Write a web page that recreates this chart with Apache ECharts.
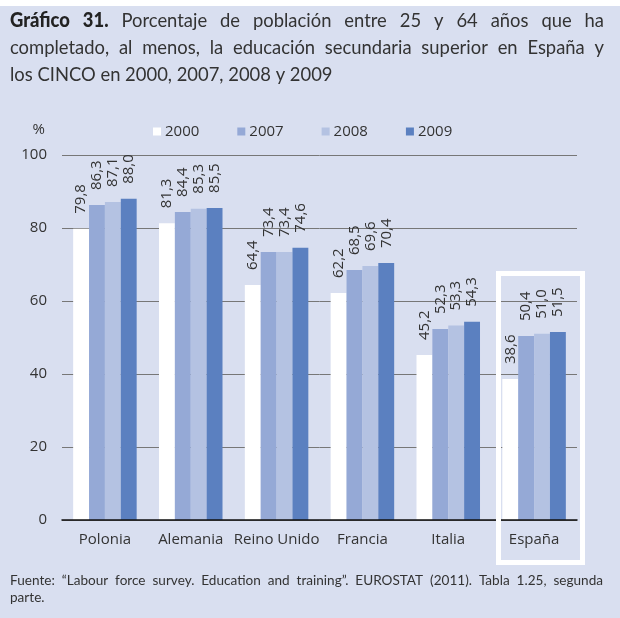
<!DOCTYPE html>
<html>
<head>
<meta charset="utf-8">
<script src="https://cdn.jsdelivr.net/npm/echarts@6/dist/echarts.min.js"></script>
<style>
  html, body { margin: 0; padding: 0; background: #d9dff0; }
  #chart { width: 620px; height: 618px; }
</style>
</head>
<body>
<div id="chart"></div>
<script>
const categories = ['Polonia', 'Alemania', 'Reino Unido', 'Francia', 'Italia', 'España']
const years = ['2000', '2007', '2008', '2009']
const v2000 = [79.8, 81.3, 64.4, 62.2, 45.2, 38.6]
const v2007 = [86.3, 84.4, 73.4, 68.5, 52.3, 50.4]
const v2008 = [87.1, 85.3, 73.4, 69.6, 53.3, 51.0]
const v2009 = [88.0, 85.5, 74.6, 70.4, 54.3, 51.5]
const yTicks = [0, 20, 40, 60, 80, 100]

const colors = ['#ffffff', '#95a9d6', '#b4c2e2', '#5b80c0']
const titleFont = 'Lato, "Open Sans", sans-serif'
const axisFont = '"Open Sans", "Noto Sans", sans-serif'

const chart = echarts.init(document.getElementById('chart'))

// justified lines like the printed page; a slight horizontal squeeze mimics the condensed face
const measureCtx = document.createElement('canvas').getContext('2d')
function justified(words, x0, width, y, size, squeeze) {
  const fontOf = w => (w.bold ? '900 ' : '') + size + 'px ' + titleFont
  const widths = words.map(w => {
    measureCtx.font = fontOf(w)
    return measureCtx.measureText(w.t).width * squeeze
  })
  const total = widths.reduce((a, b) => a + b, 0)
  const gap = (width - total) / (words.length - 1)
  let x = x0
  return words.map((w, i) => {
    const el = {
      type: 'text', x: x, y: y, scaleX: squeeze,
      style: { text: w.t, font: fontOf(w), fill: w.bold ? '#222' : '#333' }
    }
    x += widths[i] + gap
    return el
  })
}
const plain = s => s.split(' ').map(t => ({ t: t }))

function makeSeries(name, data, color) {
  return {
    name: name,
    type: 'bar',
    data: data,
    barGap: '0%',
    barCategoryGap: '26%',
    itemStyle: { color: color },
    label: {
      show: true,
      position: 'top',
      rotate: 90,
      align: 'left',
      verticalAlign: 'middle',
      distance: 15,
      fontFamily: axisFont,
      fontSize: 15,
      color: '#333',
      formatter: p => p.value.toFixed(1).replace('.', ',')
    }
  }
}

const titleLine1 = [{ t: 'Gráfico', bold: true }, { t: '31.', bold: true }].concat(plain('Porcentaje de población entre 25 y 64 años que ha'))
const titleLine2 = plain('completado, al menos, la educación secundaria superior en España y')
const footLine1 = plain('Fuente: “Labour force survey. Education and training”. EUROSTAT (2011). Tabla 1.25, segunda')

chart.setOption({
  backgroundColor: '#d9dff0',
  animation: false,
  color: colors,
  legend: {
    left: 148,
    top: 119,
    itemWidth: 8,
    itemHeight: 8,
    itemGap: 38,
    icon: 'rect',
    data: years,
    textStyle: { fontFamily: axisFont, fontSize: 15, color: '#333', padding: [0, 0, 0, -1] }
  },
  grid: {
    left: 62,
    right: 43,
    top: 155,
    bottom: 98
  },
  xAxis: {
    type: 'category',
    data: categories,
    z: 5,
    axisLine: { lineStyle: { color: '#111', width: 1.5 } },
    axisTick: { show: false },
    axisLabel: { interval: 0, fontFamily: axisFont, fontSize: 15, color: '#333', margin: 12 }
  },
  yAxis: {
    type: 'value',
    min: yTicks[0],
    max: yTicks[yTicks.length - 1],
    interval: 20,
    name: '%',
    nameLocation: 'end',
    nameGap: 18,
    nameTextStyle: { fontFamily: axisFont, fontSize: 15, color: '#333', align: 'right', padding: [0, 17, 0, 0] },
    axisLine: { show: false },
    axisTick: { show: false },
    axisLabel: { fontFamily: axisFont, fontSize: 15, color: '#333', margin: 15 },
    splitLine: { lineStyle: { color: '#777', width: 1 } }
  },
  series: [
    makeSeries(years[0], v2000, colors[0]),
    makeSeries(years[1], v2007, colors[1]),
    makeSeries(years[2], v2008, colors[2]),
    makeSeries(years[3], v2009, colors[3])
  ],
  graphic: [
    { type: 'rect', left: 0, top: 0, shape: { width: 620, height: 6 }, style: { fill: '#ffffff' } },
    { type: 'group', children: justified(titleLine1, 10, 594, 11, 20, 0.92) },
    { type: 'group', children: justified(titleLine2, 10, 594, 38, 20, 0.92) },
    { type: 'text', x: 10, y: 65, scaleX: 0.92, style: { text: 'los CINCO en 2000, 2007, 2008 y 2009', font: '20px ' + titleFont, fill: '#333' } },
    { type: 'rect', shape: { x: 498.5, y: 273.5, width: 84, height: 289 }, style: { fill: 'none', stroke: '#ffffff', lineWidth: 5 }, z: 100 },
    { type: 'group', children: justified(footLine1, 10, 593, 573, 14, 0.97) },
    { type: 'text', x: 10, y: 590, scaleX: 0.97, style: { text: 'parte.', font: '14px ' + titleFont, fill: '#333' } }
  ]
})
</script>
</body>
</html>
